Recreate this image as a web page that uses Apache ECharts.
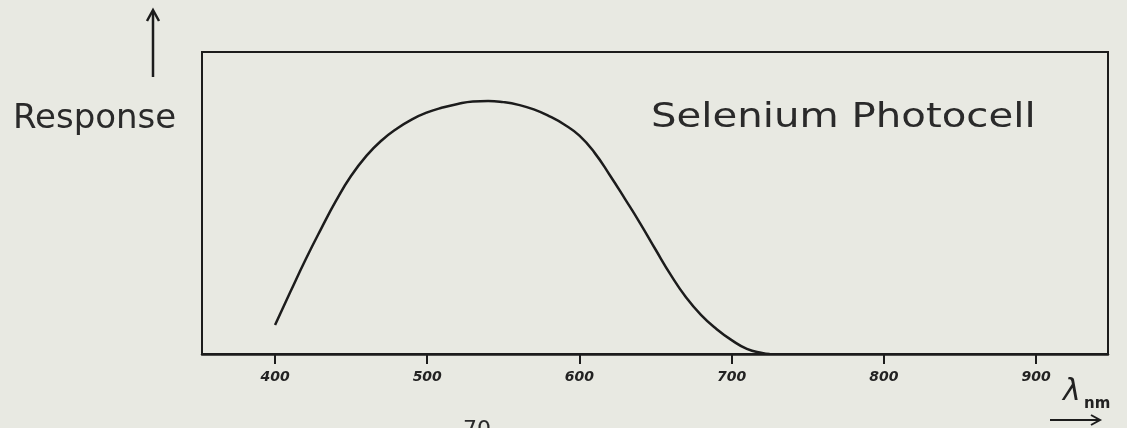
<!DOCTYPE html>
<html>
<head>
<meta charset="utf-8">
<script src="https://cdn.jsdelivr.net/npm/echarts@6/dist/echarts.min.js"></script>
<style>
html,body{margin:0;padding:0;background:#e8e9e2;}
#chart{width:1127px;height:428px;}
</style>
</head>
<body>
<div id="chart"></div>
<script>
// Data
const wavelengths = [400,410,420,430,440,450,460,470,480,490,500,510,520,530,540,550,560,570,580,590,600,610,620,630,640,650,660,670,680,690,700,710,720,725];
const response = [9.6,20.5,31.2,41.2,50.7,59.0,65.6,70.7,74.6,77.7,80.0,81.6,82.8,83.6,83.8,83.4,82.5,81.0,78.8,76.0,72.3,66.6,59.2,51.3,43.2,34.6,26.2,18.8,12.9,8.3,4.6,1.7,0.3,0];
const tickValues = [400,500,600,700,800,900];
const titleText = 'Selenium Photocell';
const yLabel = 'Response';
const xLabel = 'λ';
const xUnit = 'nm';
const pageNumber = '70';

const ink = '#1c1c1c';
const chart = echarts.init(document.getElementById('chart'), null, {renderer:'canvas'});
chart.setOption({
  backgroundColor: '#e8e9e2',
  animation: false,
  grid: {left:202, right:19, top:52, bottom:74, show:true, borderColor:ink, borderWidth:2, backgroundColor:'transparent'},
  xAxis: {
    type:'value', min:352, max:947.3,
    axisLine:{show:true, lineStyle:{color:ink, width:2.5}},
    axisTick:{show:true, customValues:tickValues, length:10, inside:false, lineStyle:{color:ink, width:2}},
    axisLabel:{show:true, customValues:tickValues, margin:16, color:'#222', fontSize:14, fontStyle:'italic', fontWeight:'bold', fontFamily:'DejaVu Sans'},
    splitLine:{show:false}
  },
  yAxis: {
    type:'value', min:0, max:100,
    axisLine:{show:false}, axisTick:{show:false}, axisLabel:{show:false}, splitLine:{show:false}
  },
  series: [{
    type:'line',
    data: wavelengths.map((w,i)=>[w,response[i]]),
    smooth:0.5,
    showSymbol:false,
    lineStyle:{color:ink, width:2.5}
  }],
  graphic: [
    {type:'line', shape:{x1:153,y1:77,x2:153,y2:11}, style:{stroke:ink, lineWidth:2.5}},
    {type:'polyline', shape:{points:[[147,21],[153,10],[159,21]]}, style:{stroke:ink, lineWidth:2.5, fill:null}},
    {type:'text', x:13, y:119, scaleX:1.03, style:{text:yLabel, font:'33px "DejaVu Sans"', fill:'#2a2a2a', verticalAlign:'middle', align:'left'}},
    {type:'text', x:651, y:118, scaleX:1.22, originX:0, originY:0, style:{text:titleText, font:'33px "DejaVu Sans"', fill:'#2a2a2a', verticalAlign:'middle', align:'left'}},
    {type:'text', x:1063, y:392, style:{text:xLabel, font:'italic 30px "DejaVu Sans"', fill:'#222', verticalAlign:'middle', align:'left'}},
    {type:'text', x:1084, y:404, style:{text:xUnit, font:'bold 15px "DejaVu Sans"', fill:'#222', verticalAlign:'middle', align:'left'}},
    {type:'line', shape:{x1:1050,y1:420,x2:1100,y2:420}, style:{stroke:ink, lineWidth:2}},
    {type:'polyline', shape:{points:[[1091,415],[1100,420],[1091,425]]}, style:{stroke:ink, lineWidth:2, fill:null}},
    {type:'text', x:463, y:419, style:{text:pageNumber, font:'22px "DejaVu Sans"', fill:'#2a2a2a', verticalAlign:'top', align:'left'}}
  ]
});
</script>
</body>
</html>
